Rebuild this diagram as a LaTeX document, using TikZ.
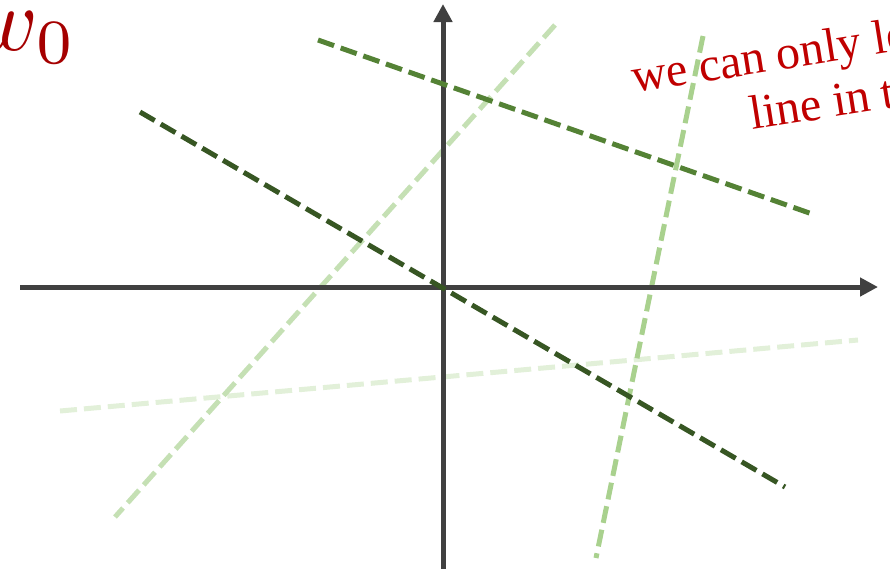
\documentclass[tikz,border=0pt]{standalone}
\usepackage{graphicx}
\usepackage{fontspec}
\newfontfamily\timesfont{Liberation Serif}
\usetikzlibrary{arrows.meta}
\definecolor{axisgray}{HTML}{404040}
\definecolor{gA}{HTML}{375623}
\definecolor{gB}{HTML}{548235}
\definecolor{gC}{HTML}{A9D18E}
\definecolor{gD}{HTML}{C5E0B4}
\definecolor{gE}{HTML}{E2F0D9}
\definecolor{wred}{HTML}{A50000}
\definecolor{tred}{HTML}{C00000}
\tikzset{
  axisline/.style={draw=axisgray, line width=5pt, -{Triangle[length=18pt,width=18pt]}},
  dline/.style={line width=5pt, dash pattern=on 17pt off 7pt},
  redtext/.style={text=tred, inner sep=0pt, font=\timesfont\fontsize{48}{57}\selectfont, rotate=9, anchor=base west},
}
\begin{document}
\begin{tikzpicture}[x=1pt,y=-1pt]
\useasboundingbox (0,0) rectangle (890,568);
\clip (0,0) rectangle (890,568);
% coordinates
\coordinate (xl) at (20,287);
\coordinate (xr) at (878,287);
\coordinate (yb) at (443,572);
\coordinate (yt) at (443,4);
\coordinate (a1) at (140,112); \coordinate (a2) at (785,487);
\coordinate (b1) at (318,40);  \coordinate (b2) at (815,215);
\coordinate (c1) at (703,36);  \coordinate (c2) at (596,558);
\coordinate (d1) at (555,25);  \coordinate (d2) at (115,517);
\coordinate (e1) at (60,411);  \coordinate (e2) at (858,340);
% dashed lines
\draw[dline, draw=gE] (e1) -- (e2);
\draw[dline, draw=gD] (d1) -- (d2);
\draw[dline, draw=gC] (c1) -- (c2);
% axes
\draw[axisline] (xl) -- (xr);
\draw[axisline] (yb) -- (yt);
\draw[dline, draw=gB] (b1) -- (b2);
\draw[dline, draw=gA] (a1) -- (a2);
% labels
\node[text=wred, inner sep=0pt, anchor=base east] (w0) at (77,50) {\scalebox{9}{$w_0$}};
\node[redtext] (t1) at (634,93) {we can only le};
\node[redtext] (t2) at (752,130) {line in th};
\end{tikzpicture}
\end{document}
